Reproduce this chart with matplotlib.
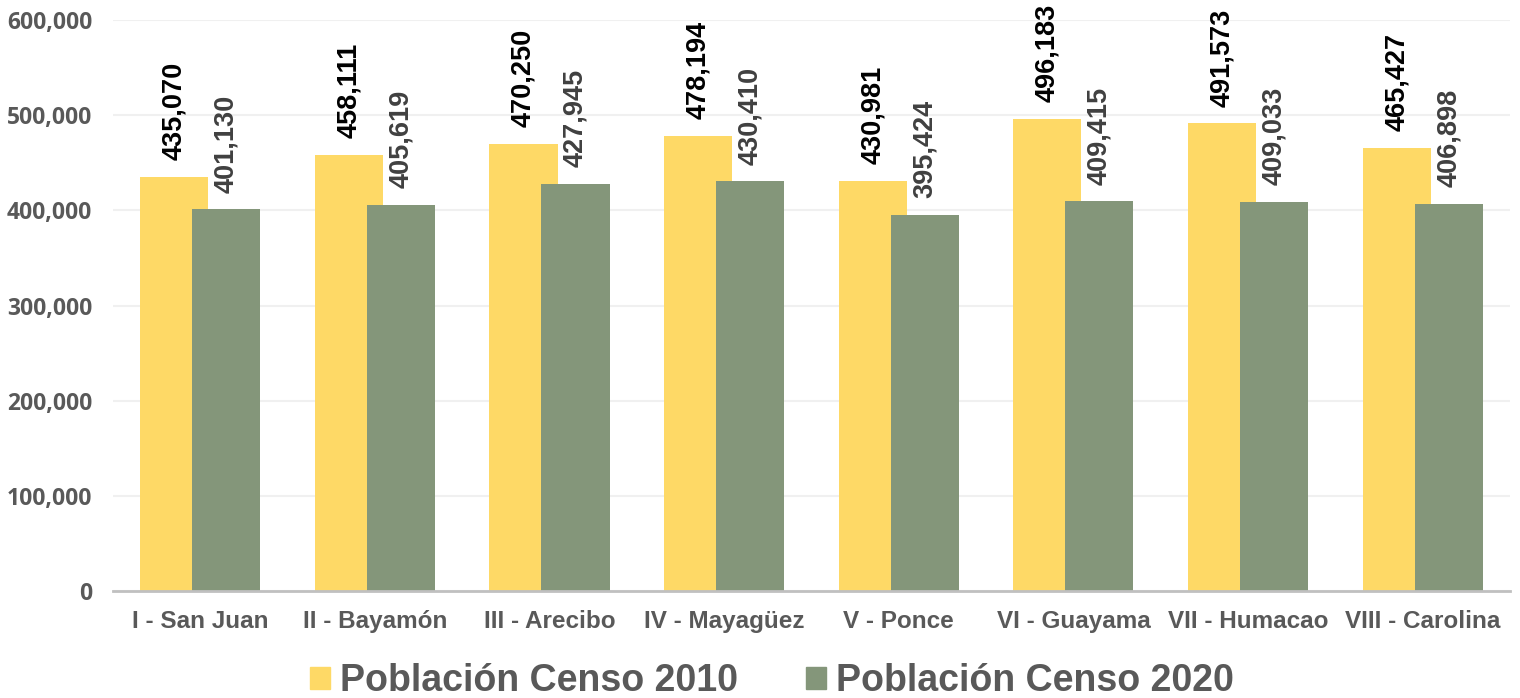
import matplotlib
matplotlib.use("Agg")
import matplotlib.pyplot as plt
import numpy as np
from matplotlib.ticker import FuncFormatter
from matplotlib.patches import Patch

categories = ["I - San Juan", "II - Bayamón", "III - Arecibo", "IV - Mayagüez",
              "V - Ponce", "VI - Guayama", "VII - Humacao", "VIII - Carolina"]
pop_2010 = [435070, 458111, 470250, 478194, 430981, 496183, 491573, 465427]
pop_2020 = [401130, 405619, 427945, 430410, 395424, 409415, 409033, 406898]
series_names = ["Población Censo 2010", "Población Censo 2020"]
yticks = [0, 100000, 200000, 300000, 400000, 500000, 600000]

c_2010 = "#FED966"
c_2020 = "#84967A"

fig = plt.figure(figsize=(15.2, 6.98), dpi=100)
ax = fig.add_axes([0.0743, 0.1533, 0.9191, 0.818])

x = np.arange(len(categories))
w = 0.39
off = 0.149
b1 = ax.bar(x - off, pop_2010, w, color=c_2010, zorder=2)
b2 = ax.bar(x + off, pop_2020, w, color=c_2020, zorder=3)

for xi, v in zip(x, pop_2010):
    ax.annotate(f"{v:,}", (xi - off, v), xytext=(0, 12), textcoords="offset points",
                rotation=90, ha="center", va="bottom", fontsize=19.5, fontweight="bold",
                color="black", family="Liberation Sans", zorder=5)
for xi, v in zip(x, pop_2020):
    ax.annotate(f"{v:,}", (xi + off, v), xytext=(0, 12), textcoords="offset points",
                rotation=90, ha="center", va="bottom", fontsize=19.5, fontweight="bold",
                color="#404040", family="Liberation Sans", zorder=5)

ax.set_xlim(-0.5, len(categories) - 0.5)
ax.set_ylim(0, 600000)
ax.set_yticks(yticks)
ax.yaxis.set_major_formatter(FuncFormatter(lambda v, p: f"{int(v):,}"))
ax.grid(axis="y", color="#F0F0F0", lw=1.5, zorder=0)
ax.set_axisbelow(True)
for s in ["top", "right", "left"]:
    ax.spines[s].set_visible(False)
ax.spines["bottom"].set_color("#C0C0C0")
ax.spines["bottom"].set_linewidth(2)
ax.spines["bottom"].set_zorder(4)
ax.tick_params(axis="both", length=0)
ax.tick_params(axis="y", pad=15)
ax.tick_params(axis="x", pad=14)
ax.set_xticks(x)
ax.set_xticklabels(categories)
for lab in ax.get_yticklabels():
    lab.set_fontfamily("Open Sans")
    lab.set_fontweight("bold")
    lab.set_fontsize(16.5)
    lab.set_color("#595959")
for lab in ax.get_xticklabels():
    lab.set_fontfamily("Liberation Sans")
    lab.set_fontweight("bold")
    lab.set_fontsize(17.5)
    lab.set_color("#595959")

handles = [Patch(color=c_2010), Patch(color=c_2020)]
leg = fig.legend(handles, series_names, loc="lower center", bbox_to_anchor=(0.508, -0.05),
                 ncol=2, frameon=False, handlelength=0.53, handleheight=0.53,
                 handletextpad=0.27, columnspacing=1.8,
                 prop={"family": "Liberation Sans", "weight": "bold", "size": 27})
for t in leg.get_texts():
    t.set_color("#595959")

fig.savefig("out.png", dpi=100)
